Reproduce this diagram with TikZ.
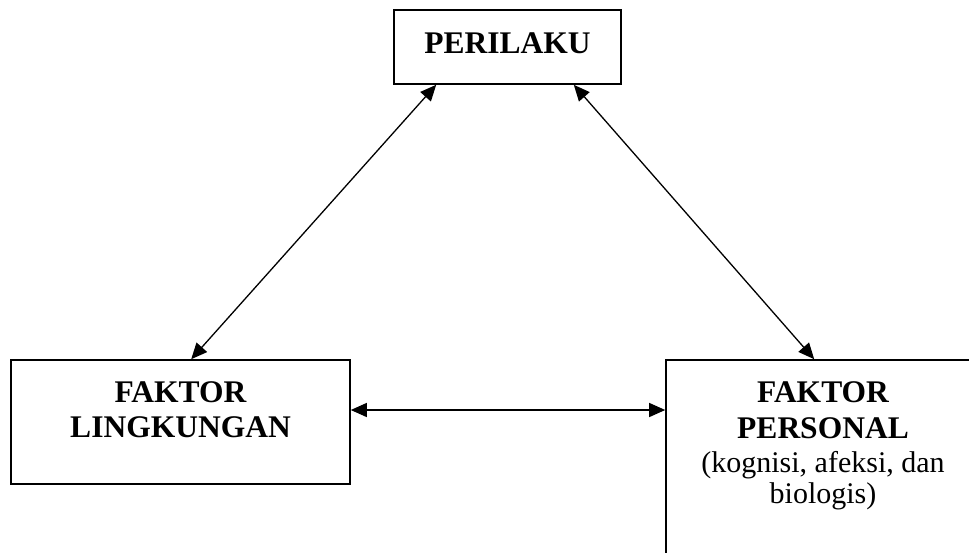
\documentclass[tikz,border=0pt]{standalone}
\usepackage{fontspec}
\setmainfont{Liberation Serif}
\usetikzlibrary{arrows.meta}
\begin{document}
\begin{tikzpicture}[x=1pt,y=-1pt,
  box/.style={draw=black, line width=1.6pt, inner sep=0pt},
  biarrow/.style={line width=1.3pt, {Triangle[length=16pt,width=14pt]}-{Triangle[length=16pt,width=14pt]}},
  bold/.style={font=\fontsize{31.5}{35}\selectfont\bfseries, align=center, inner sep=0pt},
  reg/.style={font=\fontsize{30}{32}\selectfont, align=center, inner sep=0pt}]
\useasboundingbox (0,0) rectangle (969,552);
\fill[white] (0,0) rectangle (969,552);
\clip (0,0) rectangle (969,552);
% boxes
\node[box, minimum width=227pt, minimum height=74pt] (per) at (507.5,47) {};
\node[box, minimum width=339pt, minimum height=124pt] (lin) at (180.5,422) {};
\node[box, minimum width=320pt, minimum height=250pt] (pers) at (826,485) {};
% texts
\node[bold, anchor=base] (tper) at (507.5,53) {PERILAKU};
\node[bold, anchor=base] (tlin1) at (180.5,402) {FAKTOR};
\node[bold, anchor=base] (tlin2) at (180.5,437) {LINGKUNGAN};
\node[bold, anchor=base] (tpers1) at (823,402) {FAKTOR};
\node[bold, anchor=base] (tpers2) at (823,438) {PERSONAL};
\node[reg, anchor=base] (tpers3) at (823,472) {(kognisi, afeksi, dan};
\node[reg, anchor=base] (tpers4) at (823,503) {biologis)};
% connectors
\coordinate (hl) at ([yshift=12pt]lin.east);
\coordinate (hr) at (hl -| pers.west);
\draw[biarrow] ([xshift=43pt]per.south west) -- ([xshift=181pt]lin.north west);
\draw[biarrow] ([xshift=-48pt]per.south east) -- ([xshift=149pt]pers.north west);
\draw[biarrow] (hl) -- (hr);
\end{tikzpicture}
\end{document}
